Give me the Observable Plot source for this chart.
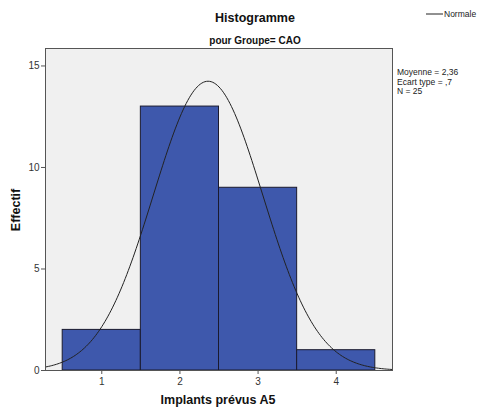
<!DOCTYPE html>
<html>
<head>
<meta charset="utf-8">
<script src="https://cdn.jsdelivr.net/npm/d3@7"></script>
<script src="https://cdn.jsdelivr.net/npm/@observablehq/plot@0.6"></script>
<style>
  html, body { margin: 0; padding: 0; background: #fff; }
  svg { font-family: "Liberation Sans", Arial, sans-serif; }
</style>
</head>
<body>
<div id="chart"></div>
<script>
const binCenters = [1, 2, 3, 4];
const counts = [2, 13, 9, 1];
const binWidth = 1;
const mean = 2.36;
const sd = 0.7;
const n = 25;
const statLines = ["Moyenne = 2,36", "Ecart type = ,7", "N = 25"];
const yTicks = [0, 5, 10, 15];
const xTicks = [1, 2, 3, 4];

const bars = binCenters.map((c, i) => ({x1: c - binWidth / 2, x2: c + binWidth / 2, y: counts[i]}));
const curve = d3.range(0.2, 4.8, 0.02).map(x => ({
  x, y: n * binWidth / (sd * Math.sqrt(2 * Math.PI)) * Math.exp(-0.5 * ((x - mean) / sd) ** 2)
}));

const W = 477, H = 412;
const plot = Plot.plot({
  width: W, height: H,
  marginLeft: 45, marginRight: 85, marginTop: 48, marginBottom: 42,
  style: {fontFamily: "'Liberation Sans', Arial, sans-serif", fontSize: "10px", color: "#333", background: "#fff"},
  x: {domain: [0.28, 4.72], label: null},
  y: {domain: [0, 15.86], label: null},
  marks: [
    Plot.frame({fill: "#f0f0f0", stroke: "none"}),
    Plot.rectY(bars, {x1: "x1", x2: "x2", y: "y", fill: "#3e58ac", stroke: "#1a1a2e", strokeWidth: 1, inset: 0}),
    Plot.line(curve, {x: "x", y: "y", stroke: "#222", strokeWidth: 1, clip: true, curve: "linear"}),
    Plot.frame({stroke: "#555", strokeWidth: 1}),
    Plot.axisX({ticks: xTicks, tickFormat: d => String(d), tickSize: 4, tickPadding: 3, stroke: "#555", fill: "#333", label: null}),
    Plot.axisY({ticks: yTicks, tickFormat: d => String(d), tickSize: 4, tickPadding: 2, stroke: "#555", fill: "#333", label: null})
  ]
});
document.getElementById("chart").appendChild(plot);

const svg = d3.select(plot);
const font = "'Liberation Sans', Arial, sans-serif";
const g = svg.append("g").attr("text-anchor", "start").attr("font-family", font);
g.append("text").attr("x", 255).attr("y", 22).attr("text-anchor", "middle")
  .attr("font-size", 12.5).attr("font-weight", "bold").attr("fill", "#111").text("Histogramme");
g.append("text").attr("x", 255).attr("y", 44).attr("text-anchor", "middle")
  .attr("font-size", 10).attr("font-weight", "bold").attr("fill", "#111").text("pour Groupe= CAO");
g.append("text").attr("x", 218).attr("y", 404).attr("text-anchor", "middle")
  .attr("font-size", 12.5).attr("font-weight", "bold").attr("fill", "#111").text("Implants prévus A5");
g.append("text").attr("transform", "translate(20,210) rotate(-90)").attr("text-anchor", "middle")
  .attr("font-size", 12.5).attr("font-weight", "bold").attr("fill", "#111").text("Effectif");
// legend
g.append("line").attr("x1", 426).attr("x2", 443).attr("y1", 14).attr("y2", 14).attr("stroke", "#222").attr("stroke-width", 1);
g.append("text").attr("x", 444).attr("y", 17).attr("text-anchor", "start").attr("font-size", 8.5).attr("fill", "#222").text("Normale");
// stats
statLines.forEach((s, i) => {
  g.append("text").attr("x", 397).attr("y", 75 + i * 9.5).attr("text-anchor", "start").attr("font-size", 8.5).attr("fill", "#222").text(s);
});
</script>
</body>
</html>
